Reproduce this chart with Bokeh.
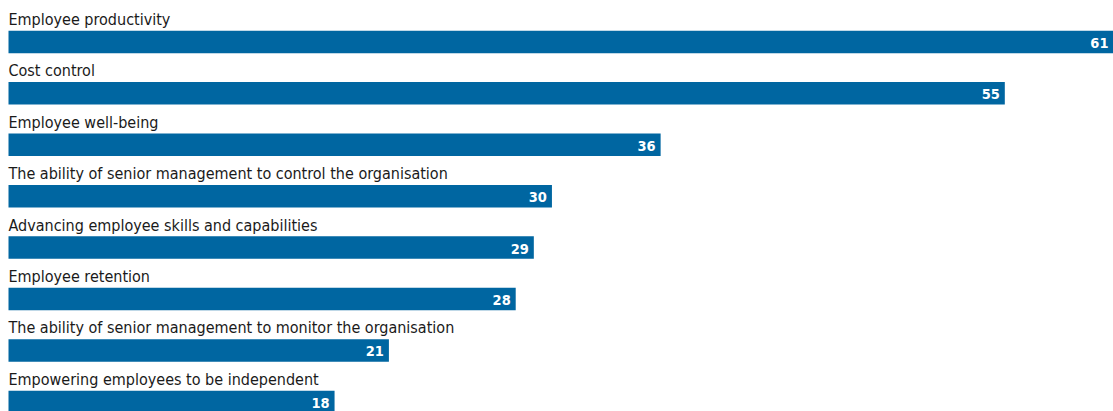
from bokeh.plotting import figure
from bokeh.models import Range1d, ColumnDataSource
from bokeh.core.properties import value
from bokeh.embed import file_html
from bokeh.resources import INLINE

categories = [
    "Employee productivity",
    "Cost control",
    "Employee well-being",
    "The ability of senior management to control the organisation",
    "Advancing employee skills and capabilities",
    "Employee retention",
    "The ability of senior management to monitor the organisation",
    "Empowering employees to be independent",
]
values = [61, 55, 36, 30, 29, 28, 21, 18]

idx = list(range(len(categories)))
src = ColumnDataSource(dict(
    y=idx, v=values, cat=categories,
    vs=[str(v) for v in values],
    zero=[0] * len(values),
))

FONT = value("DejaVu Sans Condensed")

p = figure(width=1113, height=411, output_backend="svg", toolbar_location=None,
           x_range=Range1d(-0.4416, 61), y_range=Range1d(7.187, -0.8046),
           min_border=0, outline_line_color=None)
p.axis.visible = False
p.grid.visible = False
p.background_fill_color = "white"
p.border_fill_color = "white"

p.hbar(y="y", left=0, right="v", height=0.4375, source=src,
       fill_color="#0066a1", line_color=None)

p.text(x="zero", y="y", text="cat", source=src, x_offset=0, y_offset=-22.5,
       text_font=FONT, text_font_size="16px",
       text_color="#1a1a1a", text_baseline="alphabetic", text_align="left")

p.text(x="v", y="y", text="vs", source=src, x_offset=-5, y_offset=1,
       text_font=FONT, text_font_size="14.5px",
       text_font_style="bold", text_color="white",
       text_baseline="middle", text_align="right")

open("out.html", "w").write(file_html(p, INLINE))
